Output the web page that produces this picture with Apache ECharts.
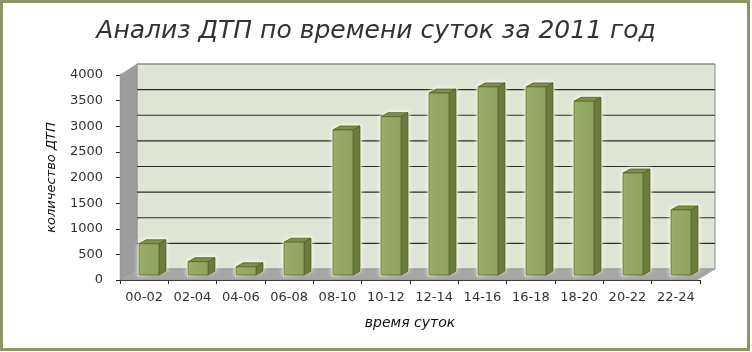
<!DOCTYPE html>
<html>
<head>
<meta charset="utf-8">
<script src="https://cdn.jsdelivr.net/npm/echarts@6/dist/echarts.min.js"></script>
<style>html,body{margin:0;padding:0;background:#fff;}#c{width:752px;height:352px;}</style>
</head>
<body>
<div id="c"></div>
<script>
var categories = ['00-02','02-04','04-06','06-08','08-10','10-12','12-14','14-16','16-18','18-20','20-22','22-24'];
var accidents = [610, 260, 160, 640, 2830, 3090, 3550, 3670, 3670, 3390, 1990, 1270];
var yTicks = {min: 0, max: 4000, step: 500};
var titleText = 'Анализ ДТП по времени суток за 2011 год';
var xName = 'время суток';
var yName = 'количество ДТП';

var WALL_DX = 17, WALL_DY = -11;
var BAR_DX = -5, BAR_DY = -5, BAR_W = 20, DEPTH_X = 7, DEPTH_Y = -4;

var chart = echarts.init(document.getElementById('c'));

function renderWalls(params, api) {
  var cs = params.coordSys;
  var x0 = cs.x, x1 = cs.x + cs.width, yT = cs.y, yB = cs.y + cs.height;
  var ch = [];
  ch.push({type:'polygon', shape:{points:[[x0+WALL_DX,yT+WALL_DY],[x1+WALL_DX-2,yT+WALL_DY],[x1+WALL_DX-2,yB+WALL_DY],[x0+WALL_DX,yB+WALL_DY]]},
    style:{fill:'#dfe5d5', stroke:'#8c8c8c', lineWidth:1}});
  ch.push({type:'polygon', shape:{points:[[x0,yT],[x0+WALL_DX,yT+WALL_DY],[x0+WALL_DX,yB+WALL_DY],[x0,yB]]},
    style:{fill:'#9d9d9d', stroke:'#8a8a8a', lineWidth:0.5}});
  ch.push({type:'polygon', shape:{points:[[x0,yB],[x1-3,yB],[x1+WALL_DX-2,yB+WALL_DY],[x0+WALL_DX,yB+WALL_DY]]},
    style:{fill:'#a6a6a6', stroke:'#8a8a8a', lineWidth:0.5}});
  for (var v = yTicks.min + yTicks.step; v <= yTicks.max; v += yTicks.step) {
    var y = api.coord([0, v])[1] + WALL_DY;
    ch.push({type:'line', shape:{x1:x0+WALL_DX, y1:y, x2:x1+WALL_DX-2, y2:y},
      style:{stroke: v === yTicks.max ? '#8c8c8c' : '#2a2a2a', lineWidth:1.2}});
  }
  return {type:'group', children: ch};
}

function renderBar(params, api) {
  var i = api.value(0), v = api.value(1);
  var p0 = api.coord([i, 0]);
  var p1 = api.coord([i, v]);
  var xl = Math.round(p0[0] + BAR_DX), xr = xl + BAR_W;
  var yb = p0[1] + BAR_DY, yt = p1[1] + BAR_DY;
  return {type:'group', children:[
    {type:'polygon', shape:{points:[[xl-1,yb+1],[xr+DEPTH_X+1,yb+DEPTH_Y],[xr+DEPTH_X+1,yt+DEPTH_Y-1],[xl+DEPTH_X-1,yt+DEPTH_Y-1],[xl-1,yt]]},
      style:{fill:'#fbfbe8', shadowBlur:4, shadowColor:'rgba(255,255,230,0.95)'}},
    {type:'polygon', shape:{points:[[xr,yb],[xr+DEPTH_X,yb+DEPTH_Y],[xr+DEPTH_X,yt+DEPTH_Y],[xr,yt]]},
      style:{fill:'#6c7c3c', stroke:'#4f5b27', lineWidth:0.8}},
    {type:'polygon', shape:{points:[[xl,yt],[xr,yt],[xr+DEPTH_X,yt+DEPTH_Y],[xl+DEPTH_X,yt+DEPTH_Y]]},
      style:{fill:'#7e9047', stroke:'#4f5b27', lineWidth:0.8}},
    {type:'rect', shape:{x:xl, y:yt, width:BAR_W, height:yb-yt},
      style:{fill:{type:'linear',x:0,y:0,x2:1,y2:0,colorStops:[{offset:0,color:'#a3b574'},{offset:0.15,color:'#97aa68'},{offset:1,color:'#8fa260'}]},
        stroke:'#5b6a2e', lineWidth:0.8}}
  ]};
}

var option = {
  backgroundColor: '#ffffff',
  animation: false,
  title: {
    text: titleText, left: 'center', top: 14,
    textStyle: {fontFamily:'DejaVu Sans', fontStyle:'italic', fontWeight:'normal', fontSize:25, color:'#333'}
  },
  graphic: [{type:'rect', shape:{x:1.5, y:1.5, width:747, height:348}, style:{fill:'none', stroke:'#8a9663', lineWidth:3}, silent:true}],
  grid: {left:120, right:52, top:75, bottom:72},
  xAxis: {
    type:'category', data:categories,
    name: xName, nameLocation:'middle', nameGap:36, nameMoveOverlap:false,
    nameTextStyle:{fontFamily:'DejaVu Sans', fontStyle:'italic', fontSize:14, color:'#111'},
    axisLine:{show:true, lineStyle:{color:'#222', width:1}},
    axisTick:{show:true, length:4, lineStyle:{color:'#222'}},
    axisLabel:{margin:11, fontFamily:'DejaVu Sans', fontSize:13, color:'#333', interval:0},
    splitLine:{show:false}
  },
  yAxis: {
    type:'value', min:yTicks.min, max:yTicks.max, interval:yTicks.step,
    name: yName, nameLocation:'middle', nameGap:62, nameRotate:90, nameMoveOverlap:false,
    nameTextStyle:{fontFamily:'DejaVu Sans', fontStyle:'italic', fontSize:13, color:'#111'},
    axisLine:{show:true, lineStyle:{color:'#222', width:1}},
    axisTick:{show:true, length:4, lineStyle:{color:'#222'}},
    axisLabel:{margin:17, fontFamily:'DejaVu Sans', fontSize:13, color:'#333', formatter:function(v){return String(v);}},
    splitLine:{show:false}
  },
  series: [
    {type:'custom', name:'walls', renderItem:renderWalls, data:[[0,0]], clip:false, silent:true, z:1},
    {type:'custom', name:'ДТП', renderItem:renderBar, data:accidents.map(function(v,i){return [i,v];}), clip:false, z:3}
  ]
};
chart.setOption(option);
</script>
</body>
</html>
